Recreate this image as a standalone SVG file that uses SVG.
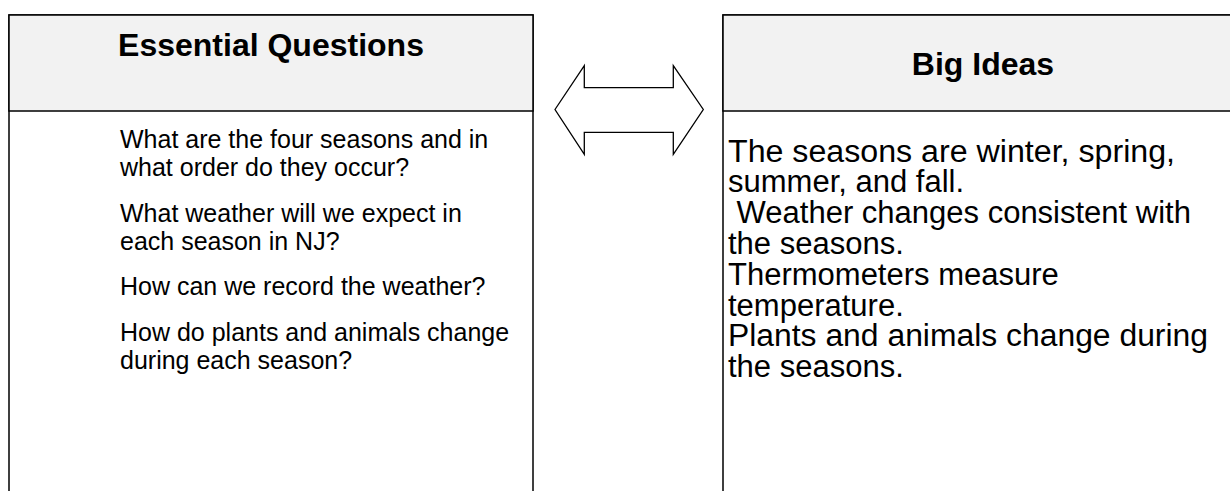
<svg xmlns="http://www.w3.org/2000/svg" width="1230" height="491" viewBox="0 0 1230 491">
  <style>
    .box { fill: #ffffff; stroke: #000000; stroke-width: 1.5; }
    .hdr { fill: #f2f2f2; stroke: #000000; stroke-width: 1.5; }
    .title { font-family: "Liberation Sans", Arial, sans-serif; font-weight: bold; font-size: 32px; fill: #000000; text-anchor: middle; }
    .q { font-family: "Liberation Sans", Arial, sans-serif; font-size: 25px; fill: #000000; }
    .idea { font-family: "Liberation Sans", Arial, sans-serif; font-size: 31px; fill: #000000; }
    .arrow { fill: #ffffff; stroke: #000000; stroke-width: 1.3; stroke-linejoin: miter; }
  </style>
  <rect x="0" y="0" width="1230" height="491" fill="#ffffff"/>

  <g id="essential-questions">
    <rect class="box" x="9" y="15" width="524" height="500"/>
    <rect class="hdr" x="9" y="15" width="524" height="96"/>
    <text class="title" x="271" y="56">Essential Questions</text>
    <text class="q">
      <tspan x="120" y="147.5">What are the four seasons and in</tspan>
      <tspan x="120" y="176.2">what order do they occur?</tspan>
      <tspan x="120" y="221.5">What weather will we expect in</tspan>
      <tspan x="120" y="250.2">each season in NJ?</tspan>
      <tspan x="120" y="295.3">How can we record the weather?</tspan>
      <tspan x="120" y="340.6">How do plants and animals change</tspan>
      <tspan x="120" y="369.3">during each season?</tspan>
    </text>
  </g>

  <g id="big-ideas">
    <rect class="box" x="723" y="15" width="540" height="500"/>
    <rect class="hdr" x="723" y="15" width="540" height="96"/>
    <text class="title" x="983" y="75">Big Ideas</text>
    <text class="idea" xml:space="preserve"><tspan x="728" y="161.5" textLength="447" lengthAdjust="spacingAndGlyphs">The seasons are winter, spring,</tspan><tspan x="728" y="192.3">summer, and fall.</tspan><tspan x="728" y="223.1"> Weather changes consistent with</tspan><tspan x="728" y="253.9">the seasons.</tspan><tspan x="728" y="284.7">Thermometers measure</tspan><tspan x="728" y="315.5">temperature.</tspan><tspan x="728" y="346.3" textLength="480" lengthAdjust="spacingAndGlyphs">Plants and animals change during</tspan><tspan x="728" y="377.1">the seasons.</tspan></text>
  </g>

  <g id="connectors">
    <polygon class="arrow" points="555,109.5 584.3,65.7 584.3,87.7 673.3,87.7 673.3,65.7 703.3,109.5 673.3,154.3 673.3,132.3 584.3,132.3 584.3,154.3"/>
  </g>
</svg>
